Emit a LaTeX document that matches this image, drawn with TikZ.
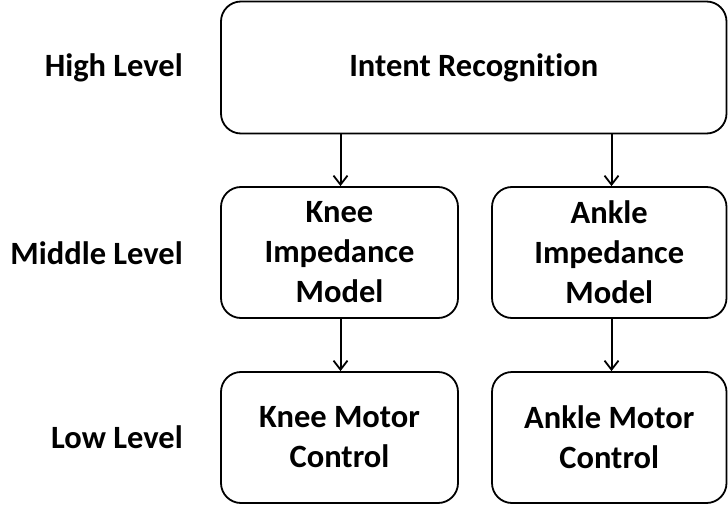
\documentclass[tikz,border=0pt]{standalone}
\usepackage{fontspec}
\setmainfont{Carlito}[Ligatures=NoCommon]
\usetikzlibrary{arrows.meta}
\begin{document}
\begin{tikzpicture}[x=1pt,y=-1pt,
  block/.style={draw,line width=1.8pt,rounded corners=20pt,align=center,inner sep=0pt},
  lvl/.style={anchor=east,inner sep=0pt},
  arr/.style={line width=2pt,-{Straight Barb[length=9pt,width=14pt,line width=1.8pt]}},
  font=\fontsize{32.5}{40}\selectfont\bfseries]
\useasboundingbox (0,0) rectangle (728,508);

\node[block,minimum width=505.5pt,minimum height=132pt] (intent) at (473.75,67.5) {Intent Recognition};
\node[block,minimum width=237pt,minimum height=131pt] (kneeimp) at (339.5,252.5) {Knee\\Impedance\\Model};
\node[block,minimum width=234.5pt,minimum height=131pt] (ankleimp) at (609.25,252.5) {Ankle\\Impedance\\Model};
\node[block,minimum width=237pt,minimum height=131pt] (kneemot) at (339.5,437.5) {Knee Motor\\Control};
\node[block,minimum width=234.5pt,minimum height=131pt] (anklemot) at (609.25,437.5) {Ankle Motor\\Control};

\node[lvl] (high) at (183,68) {High Level};
\node[lvl] (mid) at (183,253) {Middle Level};
\node[lvl] (low) at (183,437) {Low Level};

\draw[arr] ([xshift=1pt]intent.south -| kneeimp.north) -- ([xshift=1pt]kneeimp.north);
\draw[arr] ([xshift=2.25pt]intent.south -| ankleimp.north) -- ([xshift=2.25pt]ankleimp.north);
\draw[arr] ([xshift=1pt]kneeimp.south) -- ([xshift=1pt]kneemot.north);
\draw[arr] ([xshift=2.25pt]ankleimp.south) -- ([xshift=2.25pt]anklemot.north);
\end{tikzpicture}
\end{document}
